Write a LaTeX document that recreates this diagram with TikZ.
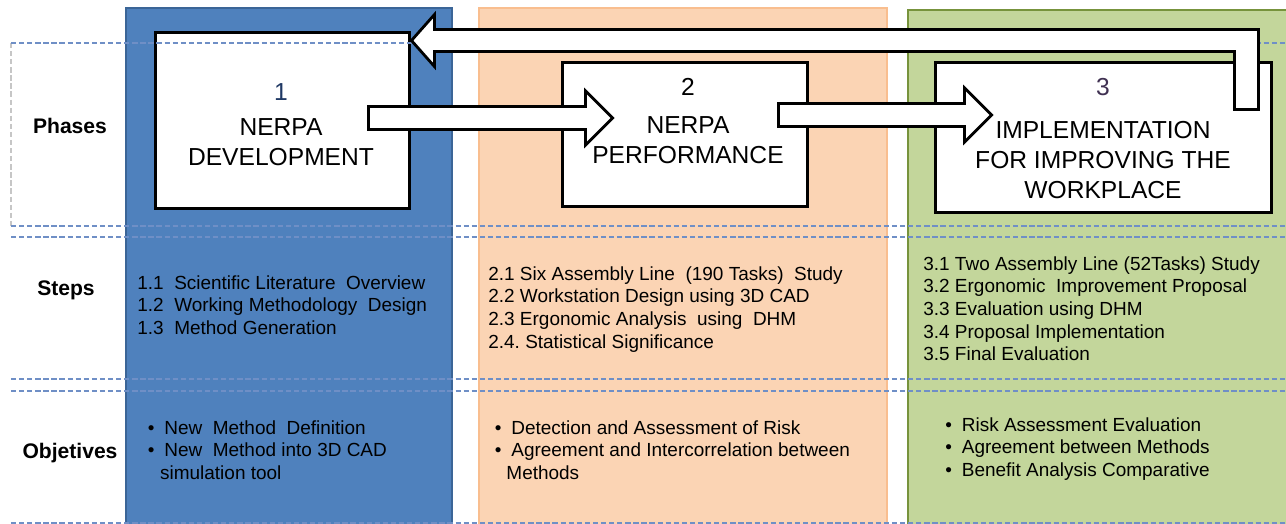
\documentclass[tikz,border=0pt]{standalone}
\usepackage{fontspec}
\setmainfont{Liberation Sans}
\usepackage{tikz}
\usetikzlibrary{calc}
\frenchspacing

\definecolor{devblue}{HTML}{4F81BD}
\definecolor{devblueline}{HTML}{3B6597}
\definecolor{perfpeach}{HTML}{FBD4B4}
\definecolor{perfpeachline}{HTML}{F9BE8F}
\definecolor{implgreen}{HTML}{C3D69B}
\definecolor{implgreenline}{HTML}{77933C}
\definecolor{rowdash}{HTML}{6F8FC6}
\definecolor{numnavy}{HTML}{1F3864}
\definecolor{numpurple}{HTML}{403152}

\tikzset{
  phasebox/.style={draw, line width=1.7pt, fill=white, inner sep=0pt},
  phasetext/.style={align=center, inner sep=0pt, font=\fontsize{14}{17}\selectfont},
  rowlabel/.style={font=\fontsize{12}{14}\selectfont\bfseries},
  listtext/.style={anchor=north west, align=left, inner sep=0pt, font=\fontsize{10.8}{12.9}\selectfont},
  rowdashed/.style={draw=rowdash, line width=0.6pt, dash pattern=on 3pt off 1.6pt},
  blockarrow/.style={draw, line width=1.6pt, fill=white, line join=miter},
}
\newcommand{\bul}{\makebox[9.4pt][l]{\textbullet}}
\newcommand{\blockarrow}[2]{%
  \draw[blockarrow] ($(#1)+(0,-11.5)$) -- ($(#2)+(-27,-11.5)$) -- ($(#2)+(-27,-27)$) -- (#2)
    -- ($(#2)+(-27,27)$) -- ($(#2)+(-27,11.5)$) -- ($(#1)+(0,11.5)$) -- cycle;}

\begin{document}
\begin{tikzpicture}[x=0.02cm, y=-0.02cm]
\useasboundingbox (0,0) rectangle (1286,524);

% phase columns
\draw[fill=devblue, draw=devblueline, line width=1.7pt] (126,8) rectangle (452,530);
\draw[fill=perfpeach, draw=perfpeachline, line width=1.1pt] (479,8) rectangle (887,530);
\draw[fill=implgreen, draw=implgreenline, line width=1.7pt] (908,10) rectangle (1296,530);

% phase boxes
\node[phasebox, minimum width=5.1cm, minimum height=3.54cm] (p1) at (282.5,120.5) {};
\node[phasebox, minimum width=4.92cm, minimum height=2.9cm] (p2) at (685,134.5) {};
\node[phasebox, minimum width=6.74cm, minimum height=3.02cm] (p3) at (1103.5,137.5) {};
\node[phasetext] (t1) at (281,124.5) {\textcolor{numnavy}{1}\\[2.8pt] NERPA\\ DEVELOPMENT};
\node[phasetext] (t2) at (688,121) {2\\[4.5pt] NERPA\\ PERFORMANCE};
\node[phasetext] (t3) at (1103,138.5) {\textcolor{numpurple}{3}\\[7.4pt] IMPLEMENTATION\\ FOR IMPROVING THE\\ WORKPLACE};

% rows
\draw[rowdashed, draw=gray!45] (11,43) -- (11,226);
\foreach \y in {43,226,237,379,391,523}
  \draw[rowdashed] (11,\y) -- (1286,\y);
\node[rowlabel] (phases) at (70,126) {Phases};
\node[rowlabel] (steps) at (66,290) {Steps};
\node[rowlabel] (objectives) at (70,453) {Objetives};

% steps
\node[listtext] (s1) at (137,275) {1.1~ Scientific Literature~ Overview\\ 1.2~ Working Methodology~ Design\\ 1.3~ Method Generation};
\node[listtext] (s2) at (488,266) {2.1 Six Assembly Line~ (190 Tasks)~ Study\\ 2.2 Workstation Design using 3D CAD\\ 2.3 Ergonomic Analysis~ using~ DHM\\ 2.4. Statistical Significance};
\node[listtext] (s3) at (923,256) {3.1 Two Assembly Line (52Tasks) Study\\ 3.2 Ergonomic~ Improvement Proposal\\ 3.3 Evaluation using DHM\\ 3.4 Proposal Implementation\\ 3.5 Final Evaluation};

% objectives
\node[listtext] (o1) at (147.5,420) {\bul New~ Method~ Definition\\ \bul New~ Method into 3D CAD\\ \hspace*{7pt}simulation tool};
\node[listtext] (o2) at (494.5,420) {\bul Detection and Assessment of Risk\\ \bul Agreement and Intercorrelation between\\ \hspace*{6.6pt}Methods};
\node[listtext] (o3) at (945,417) {\bul Risk Assessment Evaluation\\ \bul Agreement between Methods\\ \bul Benefit Analysis Comparative};

% arrows between phases
\path (p1.east) ++(-43,-2.5) coordinate (a12s);
\path (p2.west) ++(52,-16.5) coordinate (a12t);
\path (p2.east) ++(-31,-19.5) coordinate (a23s);
\path (p3.west) ++(58,-22.5) coordinate (a23t);
\blockarrow{a12s}{a12t}
\blockarrow{a23s}{a23t}

% feedback from 3 back to 1
\path (p3.north) ++(131,49) coordinate (a31s);
\path (p1.north east) ++(0,10) coordinate (a31t);
\draw[blockarrow] (a31s) -- ++(24,0) -- ++(0,-80) -- ($(a31t)+(23,-11)$) -- ++(0,-15) -- (a31t)
  -- ($(a31t)+(23,26)$) -- ++(0,-15) -- ($(a31s)+(0,-58)$) -- cycle;
\end{tikzpicture}
\end{document}
